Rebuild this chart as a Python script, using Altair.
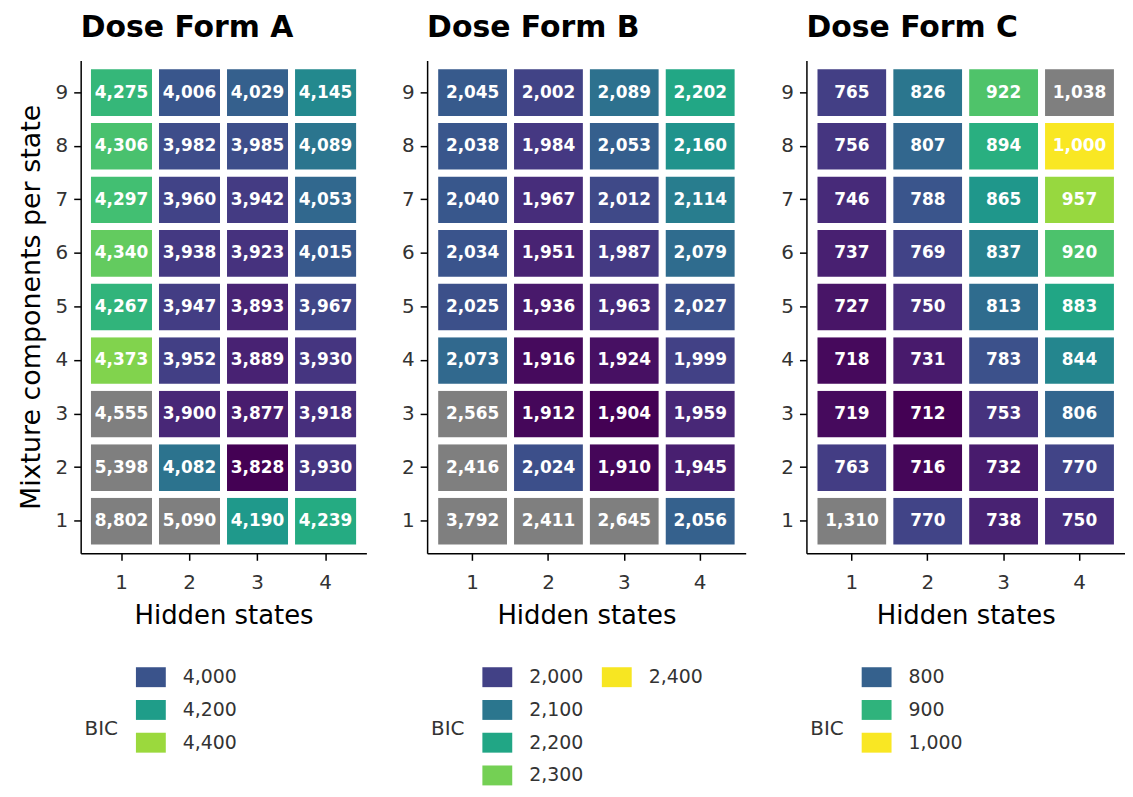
import altair as alt
import pandas as pd

FONT = "DejaVu Sans"

hidden_states = [1, 2, 3, 4]
mixture_components = [1, 2, 3, 4, 5, 6, 7, 8, 9]

# BIC values, one list per hidden-state column, ordered by mixture components 1..9
form_a_h1 = [8802, 5398, 4555, 4373, 4267, 4340, 4297, 4306, 4275]
form_a_h2 = [5090, 4082, 3900, 3952, 3947, 3938, 3960, 3982, 4006]
form_a_h3 = [4190, 3828, 3877, 3889, 3893, 3923, 3942, 3985, 4029]
form_a_h4 = [4239, 3930, 3918, 3930, 3967, 4015, 4053, 4089, 4145]

form_b_h1 = [3792, 2416, 2565, 2073, 2025, 2034, 2040, 2038, 2045]
form_b_h2 = [2411, 2024, 1912, 1916, 1936, 1951, 1967, 1984, 2002]
form_b_h3 = [2645, 1910, 1904, 1924, 1963, 1987, 2012, 2053, 2089]
form_b_h4 = [2056, 1945, 1959, 1999, 2027, 2079, 2114, 2160, 2202]

form_c_h1 = [1310, 763, 719, 718, 727, 737, 746, 756, 765]
form_c_h2 = [770, 716, 712, 731, 750, 769, 788, 807, 826]
form_c_h3 = [738, 732, 753, 783, 813, 837, 865, 894, 922]
form_c_h4 = [750, 770, 806, 844, 883, 920, 957, 1000, 1038]

# colour-scale limits (values above the upper limit are drawn grey)
limits_a = [3828, 4500]
limits_b = [1904, 2405]
limits_c = [712, 1002]

legend_a = [4000, 4200, 4400]
legend_b = [2000, 2100, 2200, 2300, 2400]
legend_c = [800, 900, 1000]

titles = ["Dose Form A", "Dose Form B", "Dose Form C"]


def panel_df(columns):
    rows = []
    for h, vals in zip(hidden_states, columns):
        for m, v in zip(mixture_components, vals):
            rows.append({"hidden": h, "mixture": m, "BIC": v})
    return pd.DataFrame(rows)


def heatmap(title, df, limits, width, ytitle):
    lo, hi = limits
    ykw = {"title": ytitle} if ytitle else {"title": None}
    base = alt.Chart(df).encode(
        x=alt.X("hidden:O", title="Hidden states",
                scale=alt.Scale(paddingInner=0, paddingOuter=0.1),
                axis=alt.Axis(labelAngle=0)),
        y=alt.Y("mixture:O", sort="descending",
                scale=alt.Scale(paddingInner=0, paddingOuter=0.1), **ykw),
    )
    rect = base.mark_rect(stroke="white", strokeWidth=7).encode(
        color=alt.condition(
            f"datum.BIC > {hi}",
            alt.value("#7F7F7F"),
            alt.Color("BIC:Q", scale=alt.Scale(scheme="viridis", domain=[lo, hi]),
                      legend=None),
        )
    )
    text = base.mark_text(font=FONT, fontWeight="bold", fontSize=17,
                          color="white").encode(text=alt.Text("BIC:Q", format=","))
    return alt.layer(rect, text).properties(
        width=width, height=495,
        title=alt.TitleParams(title, anchor="start", frame="group"),
    )


def legend_chart(values, limits):
    lo, hi = limits
    df = pd.DataFrame({
        "value": values,
        "col": [i // 4 for i in range(len(values))],
        "row": [i % 4 for i in range(len(values))],
    })
    base = alt.Chart(df).encode(
        x=alt.X("col:O", axis=None,
                scale=alt.Scale(type="point", domain=[0, 1], padding=0.5875)),
        y=alt.Y("row:Q",
                scale=alt.Scale(domain=[-0.5, 3.3], reverse=True, nice=False, zero=False),
                axis=alt.Axis(title="BIC", labels=False, ticks=False, domain=False,
                              grid=False, titleAngle=0, titleAlign="right",
                              titleBaseline="middle", titleX=37, titleY=68,
                              titleFontSize=20, titleColor="#333333",
                              titleFontWeight="normal")),
    )
    squares = base.mark_point(shape="M-1.5,-1L1.5,-1L1.5,1L-1.5,1Z", size=400,
                              filled=True, opacity=1, strokeWidth=0).encode(
        color=alt.Color("value:Q", scale=alt.Scale(scheme="viridis", domain=[lo, hi]),
                        legend=None)
    )
    labels = base.mark_text(align="left", baseline="middle", dx=32, font=FONT,
                            fontSize=19, color="#333333").encode(
        text=alt.Text("value:Q", format=",")
    )
    return alt.layer(squares, labels).properties(width=261, height=125)


df_a = panel_df([form_a_h1, form_a_h2, form_a_h3, form_a_h4])
df_b = panel_df([form_b_h1, form_b_h2, form_b_h3, form_b_h4])
df_c = panel_df([form_c_h1, form_c_h2, form_c_h3, form_c_h4])

col_a = alt.vconcat(
    heatmap(titles[0], df_a, limits_a, 287, "Mixture components per state"),
    legend_chart(legend_a, limits_a), spacing=32,
).resolve_scale(color="independent")
col_b = alt.vconcat(
    heatmap(titles[1], df_b, limits_b, 320, None),
    legend_chart(legend_b, limits_b), spacing=32,
).resolve_scale(color="independent")
col_c = alt.vconcat(
    heatmap(titles[2], df_c, limits_c, 320, None),
    legend_chart(legend_c, limits_c), spacing=32,
).resolve_scale(color="independent")

chart = (
    alt.hconcat(col_a, col_b, col_c, spacing=35)
    .resolve_scale(color="independent")
    .properties(padding={"left": 9, "top": 3, "right": 0, "bottom": 0})
    .configure_view(stroke=None)
    .configure_axis(
        grid=False, domainColor="black", domainWidth=1.5, tickColor="black",
        tickWidth=1.5, tickSize=7, labelFont=FONT, labelFontSize=20,
        labelColor="#333333", titleFont=FONT, titleFontSize=26,
        titleFontWeight="normal", titleColor="black",
    )
    .configure_axisX(labelPadding=12, titlePadding=11)
    .configure_axisY(labelPadding=6, titlePadding=10, titleFontSize=27)
    .configure_title(font=FONT, fontSize=30, fontWeight="bold", color="black",
                     anchor="start", baseline="alphabetic", offset=18)
)

chart.save("out.html", embed_options={"renderer": "svg", "actions": False})
